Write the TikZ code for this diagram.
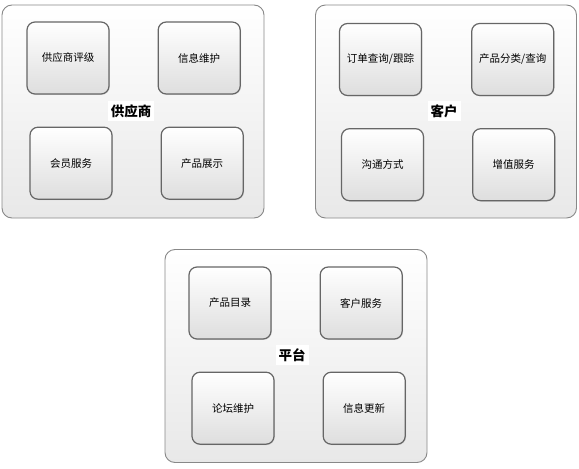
\documentclass[tikz,border=0pt]{standalone}
\usepackage{fontspec}
\setmainfont{Noto Sans CJK SC}
\usepackage{tikz}
\usetikzlibrary{positioning,shadows}
\definecolor{edgegray}{HTML}{888888}
\definecolor{itemgray}{HTML}{666666}
\tikzset{
  every picture/.style = {
    x = 1pt,
    y = -1pt,
    node distance = 32pt and 48pt,
  }
  , % outer blocks
  group/.style = {
    rectangle,
    rounded corners = 10pt,
    draw = edgegray,
    line width = 0.9pt,
    top color = white,
    bottom color = black!9,
    minimum width = 262pt,
    minimum height = 213pt
  }
  , % inner functions
  item/.style = {
    rectangle,
    rounded corners = 8pt,
    draw = itemgray,
    line width = 1.2pt,
    top color = white,
    bottom color = black!13,
    drop shadow = {shadow xshift=0.8pt, shadow yshift=-0.8pt, opacity=0.25},
    font = \fontsize{10.5}{12}\selectfont,
    minimum width = 82pt,
    minimum height = 72pt
  }
  , % block titles
  label-group/.style = {
    fill = white,
    inner sep = 3pt,
    font = \fontsize{13.5}{15}\selectfont\bfseries
  }
}
\begin{document}
\begin{tikzpicture}
  \useasboundingbox (0,0) rectangle (579,469);

  % supplier
  \node [group] (sup) at (133,111.5) {};
  \node [item] (sup1) at (68,58) {供应商评级};
  \node [item, right = of sup1] (sup2) {信息维护};
  \node [item, below = of sup1, xshift = 3pt] (sup3) {会员服务};
  \node [item, right = of sup3] (sup4) {产品展示};
  \node [label-group] (supt) at (131,111) {供应商};

  % customer
  \node [group, minimum width = 261pt] (cus) at (446,111.5) {};
  \node [item] (cus1) at (380.5,59.5) {订单查询/跟踪};
  \node [item, right = 49pt of cus1] (cus2) {产品分类/查询};
  \node [item, below = of cus1, xshift = 2pt] (cus3) {沟通方式};
  \node [item, right = of cus3] (cus4) {增值服务};
  \node [label-group] (cust) at (444,111) {客户};

  % platform
  \node [group] (pla) at (296,356) {};
  \node [item] (pla1) at (230,303) {产品目录};
  \node [item, right = of pla1] (pla2) {客户服务};
  \node [item, below = of pla1, xshift = 3pt] (pla3) {论坛维护};
  \node [item, right = of pla3] (pla4) {信息更新};
  \node [label-group] (plat) at (292,355) {平台};
\end{tikzpicture}
\end{document}
